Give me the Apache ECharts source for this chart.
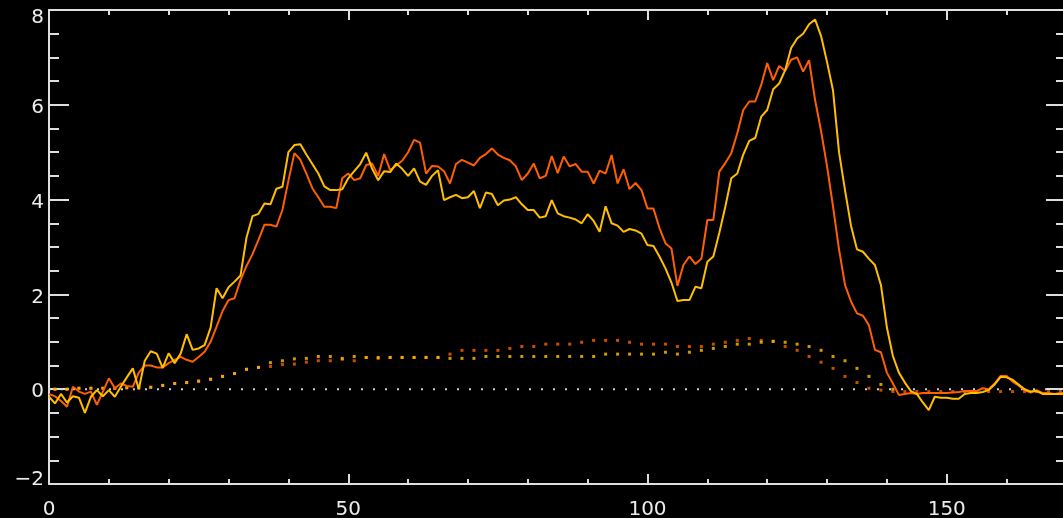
<!DOCTYPE html>
<html><head><meta charset="utf-8">
<script src="https://cdn.jsdelivr.net/npm/echarts@6/dist/echarts.min.js"></script>
<style>html,body{margin:0;padding:0;background:#000;}#c{width:1063px;height:518px;}</style>
</head><body><div id="c"></div>
<script>
// solid curves, one value per x = 0..170
const orangeLine = [
-0.1,-0.15,-0.25,-0.37,0.05,-0.05,-0.1,-0.05,-0.33,-0.05,
0.23,0.02,0.12,0.07,0.05,0.35,0.5,0.5,0.46,0.46,
0.55,0.62,0.68,0.62,0.58,0.68,0.79,1.0,1.32,1.65,
1.88,1.92,2.3,2.6,2.85,3.15,3.47,3.47,3.43,3.78,
4.4,4.98,4.84,4.55,4.24,4.05,3.85,3.85,3.82,4.45,
4.55,4.41,4.45,4.73,4.76,4.5,4.96,4.62,4.72,4.82,
5.0,5.26,5.2,4.55,4.71,4.7,4.6,4.34,4.75,4.84,
4.78,4.72,4.88,4.96,5.08,4.95,4.88,4.83,4.7,4.41,
4.55,4.76,4.45,4.5,4.92,4.56,4.91,4.7,4.75,4.59,
4.59,4.34,4.61,4.55,4.94,4.34,4.64,4.22,4.35,4.2,
3.81,3.81,3.4,3.08,2.97,2.18,2.62,2.8,2.64,2.75,
3.57,3.57,4.59,4.77,4.98,5.4,5.89,6.07,6.07,6.42,
6.88,6.52,6.82,6.72,6.95,7.0,6.7,6.94,6.1,5.45,
4.7,3.85,2.95,2.2,1.85,1.6,1.55,1.35,0.83,0.78,
0.35,0.12,-0.12,-0.1,-0.08,-0.1,-0.08,-0.08,-0.08,-0.08,
-0.08,-0.07,-0.06,-0.04,-0.04,-0.04,0.02,0.0,0.12,0.28,
0.28,0.16,0.08,-0.02,-0.07,-0.02,-0.08,-0.08,-0.1,-0.08,
-0.08];
const yellowLine = [
-0.16,-0.3,-0.1,-0.28,-0.15,-0.18,-0.5,-0.16,-0.02,-0.15,
-0.02,-0.16,0.05,0.25,0.44,0.0,0.6,0.8,0.75,0.45,
0.76,0.55,0.75,1.16,0.83,0.86,0.93,1.3,2.13,1.92,
2.15,2.27,2.4,3.2,3.65,3.7,3.92,3.9,4.23,4.27,
5.0,5.15,5.17,4.95,4.75,4.55,4.28,4.2,4.2,4.22,
4.45,4.6,4.75,4.99,4.65,4.41,4.6,4.58,4.76,4.65,
4.5,4.66,4.38,4.31,4.5,4.62,3.99,4.05,4.1,4.03,
4.05,4.18,3.82,4.15,4.12,3.88,3.98,4.0,4.05,3.9,
3.78,3.78,3.62,3.65,3.99,3.71,3.65,3.62,3.58,3.5,
3.69,3.55,3.32,3.86,3.5,3.45,3.32,3.38,3.35,3.28,
3.04,3.02,2.8,2.55,2.25,1.86,1.88,1.88,2.16,2.13,
2.69,2.8,3.3,3.85,4.45,4.55,4.95,5.24,5.3,5.75,
5.89,6.33,6.45,6.73,7.2,7.4,7.5,7.7,7.8,7.45,
6.9,6.3,5.0,4.2,3.45,2.95,2.9,2.75,2.62,2.2,
1.3,0.7,0.35,0.14,-0.04,-0.1,-0.28,-0.44,-0.16,-0.18,
-0.18,-0.2,-0.2,-0.1,-0.08,-0.08,-0.06,-0.02,0.1,0.26,
0.25,0.2,0.1,0.0,-0.05,-0.04,-0.1,-0.1,-0.1,-0.1,
-0.1];
// dotted curves, one value per odd x = 1,3,5,...
const orangeDots = [
0.0,0.0,0.02,0.02,0.02,0.02,0.03,0.03,0.04,0.08,
0.12,0.14,0.17,0.21,0.27,0.33,0.42,0.46,0.48,0.52,
0.53,0.57,0.6,0.6,0.63,0.6,0.67,0.65,0.67,0.67,
0.67,0.67,0.67,0.74,0.82,0.82,0.82,0.82,0.86,0.9,
0.9,0.95,0.95,0.95,0.99,1.03,1.03,1.03,0.99,0.95,
0.95,0.95,0.9,0.9,0.9,0.95,0.99,1.03,1.07,1.03,
1.01,0.9,0.82,0.69,0.57,0.44,0.27,0.14,0.02,-0.02,
-0.05,-0.05,-0.05,-0.05,-0.05,-0.05,-0.05,-0.05,-0.05,-0.05,
-0.05,-0.05,-0.05,-0.05,-0.05];
const yellowDots = [
0.0,0.0,0.02,0.02,0.02,0.02,0.03,0.03,0.04,0.08,
0.12,0.14,0.17,0.21,0.27,0.33,0.42,0.46,0.56,0.6,
0.64,0.65,0.69,0.69,0.65,0.69,0.67,0.67,0.67,0.67,
0.67,0.67,0.67,0.65,0.65,0.65,0.69,0.69,0.69,0.69,
0.69,0.69,0.69,0.69,0.69,0.69,0.74,0.74,0.74,0.74,
0.74,0.78,0.74,0.78,0.82,0.86,0.9,0.95,0.95,0.99,
1.01,0.99,0.95,0.9,0.82,0.69,0.6,0.44,0.27,0.1,
0.0];
const zeroLine = [[0, 0], [170, 0]];
const yLabelTop = 8, yLabelBottom = -2;

const axisColor = '#dedede';
const labelColor = '#ececec';
const font = 'DejaVu Sans';

const chart = echarts.init(document.getElementById('c'), null, {renderer: 'canvas'});
function xAxisBase(pos, showLabel) {
  return {
    type: 'value', gridIndex: 0, position: pos, min: 0, max: 200, interval: 50,
    axisLine: {show: true, onZero: false, lineStyle: {color: axisColor, width: 2}},
    axisTick: {show: true, inside: true, length: 10, lineStyle: {color: axisColor, width: 2}},
    minorTick: {show: true, splitNumber: 5, length: 5, lineStyle: {color: axisColor, width: 2}},
    splitLine: {show: false}, minorSplitLine: {show: false},
    axisLabel: {show: showLabel, color: labelColor, fontSize: 20, fontFamily: font, margin: 16}
  };
}
function yAxisBase(grid, pos, showLabel) {
  return {
    type: 'value', gridIndex: grid, position: pos, min: -2, max: 8, interval: 2,
    axisLine: {show: true, onZero: false, lineStyle: {color: axisColor, width: 2}},
    axisTick: {show: true, inside: true, length: 20, lineStyle: {color: axisColor, width: 2}},
    minorTick: {show: true, splitNumber: 4, length: 10, lineStyle: {color: axisColor, width: 2}},
    splitLine: {show: false}, minorSplitLine: {show: false},
    axisLabel: {
      show: showLabel, margin: 5, color: labelColor, fontSize: 20, fontFamily: font,
      formatter: function (v) {
        const s = String(v).replace('-', '\u2212');
        if (v === yLabelTop) return '{t|' + s + '}';
        if (v === yLabelBottom) return '{b|' + s + '}';
        return '{m|' + s + '}';
      },
      rich: {
        t: {padding: [16, 0, 0, 0], color: labelColor, fontSize: 20, fontFamily: font},
        m: {padding: [6, 0, 0, 0], color: labelColor, fontSize: 20, fontFamily: font},
        b: {padding: [0, 0, 8, 0], color: labelColor, fontSize: 20, fontFamily: font}
      }
    }
  };
}
const option = {
  backgroundColor: '#000',
  animation: false,
  grid: [
    {left: 49, right: -183, top: 10, bottom: 34, outerBoundsMode: 'none', containLabel: false},
    {left: 49, right: -3, top: 10, bottom: 34, outerBoundsMode: 'none', containLabel: false}
  ],
  xAxis: [
    xAxisBase('bottom', true),
    xAxisBase('top', false),
    {type: 'value', gridIndex: 1, min: 0, max: 170, show: false}
  ],
  yAxis: [
    yAxisBase(0, 'left', true),
    yAxisBase(1, 'right', false)
  ],
  series: [
    {type: 'line', data: zeroLine, showSymbol: false, symbol: 'none',
     lineStyle: {color: '#d0d0d0', width: 2, type: [2, 10]}, silent: true},
    {type: 'scatter', data: orangeDots.map((v, i) => [2 * i + 1, v]), symbol: 'rect', symbolSize: 3,
     itemStyle: {color: '#ff5f00'}, silent: true},
    {type: 'scatter', data: yellowDots.map((v, i) => [2 * i + 1, v]), symbol: 'rect', symbolSize: 3,
     itemStyle: {color: '#ffbf00'}, silent: true},
    {type: 'line', data: orangeLine.map((v, i) => [i, v]), showSymbol: false, symbol: 'none',
     lineStyle: {color: '#ff5f00', width: 2}, silent: true},
    {type: 'line', data: yellowLine.map((v, i) => [i, v]), showSymbol: false, symbol: 'none',
     lineStyle: {color: '#ffbf00', width: 2}, silent: true}
  ]
};
chart.setOption(option);
</script>
</body></html>
